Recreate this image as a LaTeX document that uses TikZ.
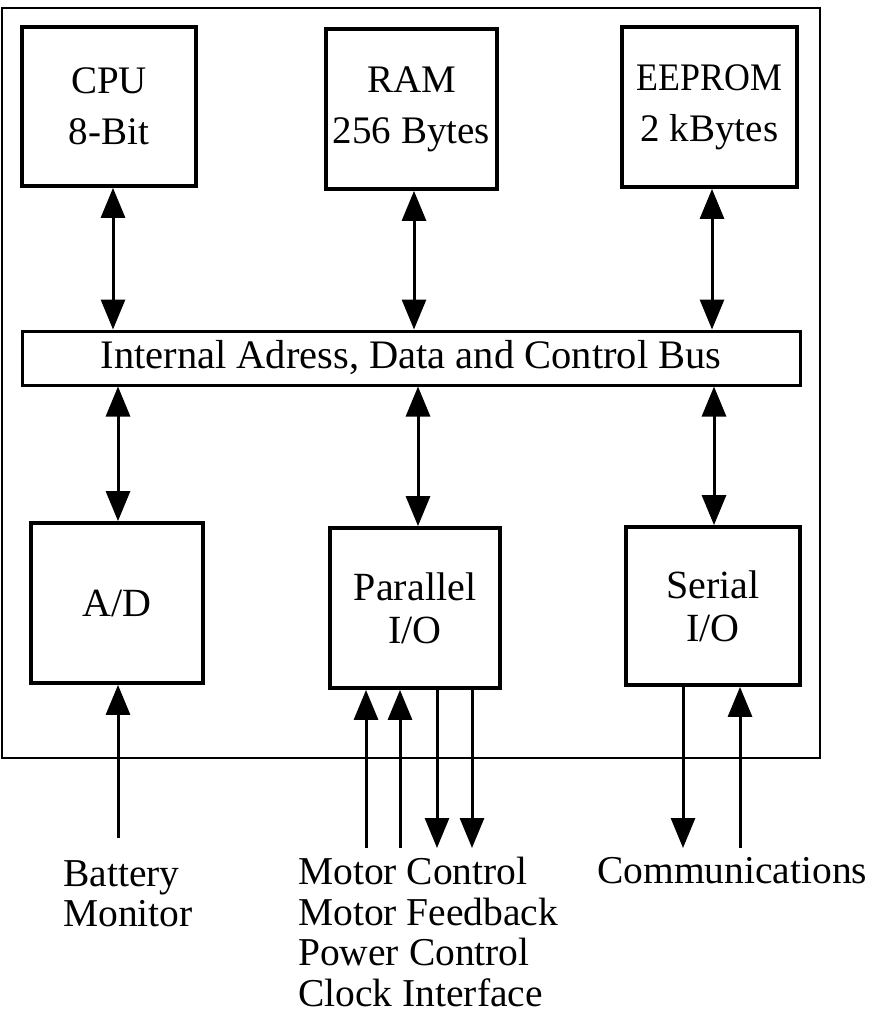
\documentclass[tikz,border=0pt]{standalone}
\usepackage{fontspec}
\setmainfont{Liberation Serif}
\usetikzlibrary{arrows.meta}
\begin{document}
\begin{tikzpicture}[x=1pt,y=-1pt,
  blk/.style={draw,line width=3.8pt,inner sep=0pt,align=center,
    font=\fontsize{39}{51}\selectfont},
  lowblk/.style={blk,font=\fontsize{40}{43}\selectfont},
  busbox/.style={draw,line width=3pt,inner sep=0pt,
    font=\fontsize{40.5}{44}\selectfont},
  link/.style={line width=3pt},
  tip/.tip={Triangle[length=30pt,width=24pt]},
  lbl/.style={inner sep=0pt,align=left,anchor=north west,
    font=\fontsize{39.5}{40.5}\selectfont}]
\useasboundingbox (0,0) rectangle (870,1014);
\draw[line width=1.5pt] (2,8) rectangle (820,758);
% top blocks
\node[blk,minimum width=174pt,minimum height=159pt] (cpu) at (109,106.5) {CPU\\8-Bit};
\node[blk,minimum width=171pt,minimum height=160pt] (ram) at (411.5,109) {RAM\\256 Bytes};
\node[blk,minimum width=175pt,minimum height=160pt] (eeprom) at (709.5,107) {\scalebox{0.92}[1]{EEPROM}\\2 kBytes};
% bus
\node[busbox,minimum width=778pt,minimum height=54pt] (bus) at (411,358) {Internal Adress, Data and Control Bus};
% lower blocks
\node[lowblk,minimum width=172pt,minimum height=160pt] (ad) at (117,603) {A/D};
\node[lowblk,minimum width=170pt,minimum height=160pt] (par) at (415,608) {Parallel\\I/O};
\node[lowblk,minimum width=174pt,minimum height=158pt] (ser) at (713,606) {Serial\\I/O};
% bus connectors
\draw[link,tip-tip] ([xshift=4pt]cpu.south) -- ([xshift=4pt]cpu.south |- bus.north);
\draw[link,tip-tip] ([xshift=2.5pt]ram.south) -- ([xshift=2.5pt]ram.south |- bus.north);
\draw[link,tip-tip] ([xshift=2.5pt]eeprom.south) -- ([xshift=2.5pt]eeprom.south |- bus.north);
\draw[link,tip-tip] ([xshift=1pt]ad.north |- bus.south) -- ([xshift=1pt]ad.north);
\draw[link,tip-tip] ([xshift=3pt]par.north |- bus.south) -- ([xshift=3pt]par.north);
\draw[link,tip-tip] ([xshift=1pt]ser.north |- bus.south) -- ([xshift=1pt]ser.north);
% external ends
\coordinate (bat) at (118,838);
\coordinate (p1) at (366,848);
\coordinate (p2) at (400,848);
\coordinate (p3) at (437,848);
\coordinate (p4) at (472,848);
\coordinate (s1) at (683,848);
\coordinate (s2) at (740,848);
\draw[link,-tip] (bat) -- (bat |- ad.south);
\draw[link,-tip] (p1) -- (p1 |- par.south);
\draw[link,-tip] (p2) -- (p2 |- par.south);
\draw[link,-tip] (p3 |- par.south) -- (p3);
\draw[link,-tip] (p4 |- par.south) -- (p4);
\draw[link,-tip] (s1 |- ser.south) -- (s1);
\draw[link,-tip] (s2) -- (s2 |- ser.south);
% labels
\node[lbl] (batlbl) at (63,860) {Battery\\Monitor};
\node[lbl] (parlbl) at (298,857) {Motor Control\\Motor Feedback\\Power Control\\Clock Interface};
\node[lbl] (comlbl) at (597,857) {Communications};
\end{tikzpicture}
\end{document}
